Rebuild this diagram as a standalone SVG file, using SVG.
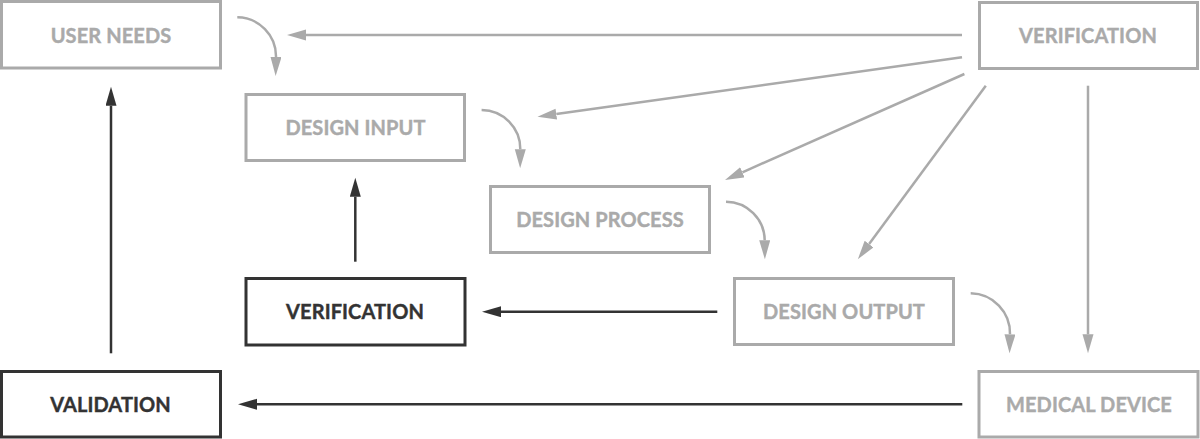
<svg xmlns="http://www.w3.org/2000/svg" width="1200" height="439" viewBox="0 0 1200 439">
<defs>
<style>
.box{fill:#ffffff;stroke-width:3}
.g .box{stroke:#aaaaaa}
.d .box{stroke:#333333}
.lbl{font-family:Lato,"Liberation Sans",sans-serif;font-weight:700;font-size:20px;text-anchor:middle;letter-spacing:0.1px;stroke-width:0.4px}
.g .lbl{fill:#aaaaaa;stroke:#aaaaaa}
.d .lbl{fill:#333333;stroke:#333333}
.cg{fill:none;stroke:#aaaaaa;stroke-width:2.5}
.cd{fill:none;stroke:#333333;stroke-width:2.5}
</style>
<marker id="ag" markerUnits="userSpaceOnUse" markerWidth="20" markerHeight="12" refX="0" refY="5.5" orient="auto" viewBox="0 0 20 12">
<path d="M0,0 L19,5.5 L0,11 z" fill="#aaaaaa"/>
</marker>
<marker id="ad" markerUnits="userSpaceOnUse" markerWidth="20" markerHeight="12" refX="0" refY="5.5" orient="auto" viewBox="0 0 20 12">
<path d="M0,0 L19,5.5 L0,11 z" fill="#333333"/>
</marker>
</defs>
<rect width="1200" height="439" fill="#ffffff"/>
<g id="connectors">
<path class="cg" marker-end="url(#ag)" d="M962,35 L306,35"/>
<path class="cg" marker-end="url(#ag)" d="M962,57.3 L556.3,114.1"/>
<path class="cg" marker-end="url(#ag)" d="M964.4,74 L742.4,172.3"/>
<path class="cg" marker-end="url(#ag)" d="M985.8,85.7 L869.1,244"/>
<path class="cg" marker-end="url(#ag)" d="M1088,85.7 L1088,334.3"/>
<path class="cg" marker-end="url(#ag)" d="M237.3,17.3 A39,39 0 0 1 276,57"/>
<path class="cg" marker-end="url(#ag)" d="M481.6,110 A39,39 0 0 1 520.3,149.3"/>
<path class="cg" marker-end="url(#ag)" d="M726,201.7 A39,39 0 0 1 764.7,240.3"/>
<path class="cg" marker-end="url(#ag)" d="M970.7,293.3 A40,40 0 0 1 1010,334.3"/>
<path class="cd" marker-end="url(#ad)" d="M355.3,261.7 L355.3,196.7"/>
<path class="cd" marker-end="url(#ad)" d="M111,353.3 L111,105.7"/>
<path class="cd" marker-end="url(#ad)" d="M717.3,311.7 L501,311.7"/>
<path class="cd" marker-end="url(#ad)" d="M962.3,404.3 L257,404.3"/>
</g>
<g id="user-needs" class="g">
<rect class="box" x="1.5" y="1.5" width="219" height="66.5"/>
<text class="lbl" x="111" y="42.5">USER NEEDS</text>
</g>
<g id="verification-top" class="g">
<rect class="box" x="979.5" y="2.5" width="218" height="66"/>
<text class="lbl" x="1088" y="43">VERIFICATION</text>
</g>
<g id="design-input" class="g">
<rect class="box" x="246" y="94.5" width="218.5" height="66"/>
<text class="lbl" x="355.5" y="135">DESIGN INPUT</text>
</g>
<g id="design-process" class="g">
<rect class="box" x="490.5" y="186.5" width="219" height="66"/>
<text class="lbl" x="600" y="227">DESIGN PROCESS</text>
</g>
<g id="design-output" class="g">
<rect class="box" x="734.5" y="278.5" width="219" height="66"/>
<text class="lbl" x="844" y="319">DESIGN OUTPUT</text>
</g>
<g id="verification" class="d">
<rect class="box" x="246" y="278.5" width="219" height="66.5"/>
<text class="lbl" x="355" y="319">VERIFICATION</text>
</g>
<g id="validation" class="d">
<rect class="box" x="1.5" y="371.5" width="219" height="65.5"/>
<text class="lbl" x="110.5" y="411.5">VALIDATION</text>
</g>
<g id="medical-device" class="g">
<rect class="box" x="979" y="371.5" width="219" height="65.5"/>
<text class="lbl" x="1089" y="411.5">MEDICAL DEVICE</text>
</g>
</svg>
